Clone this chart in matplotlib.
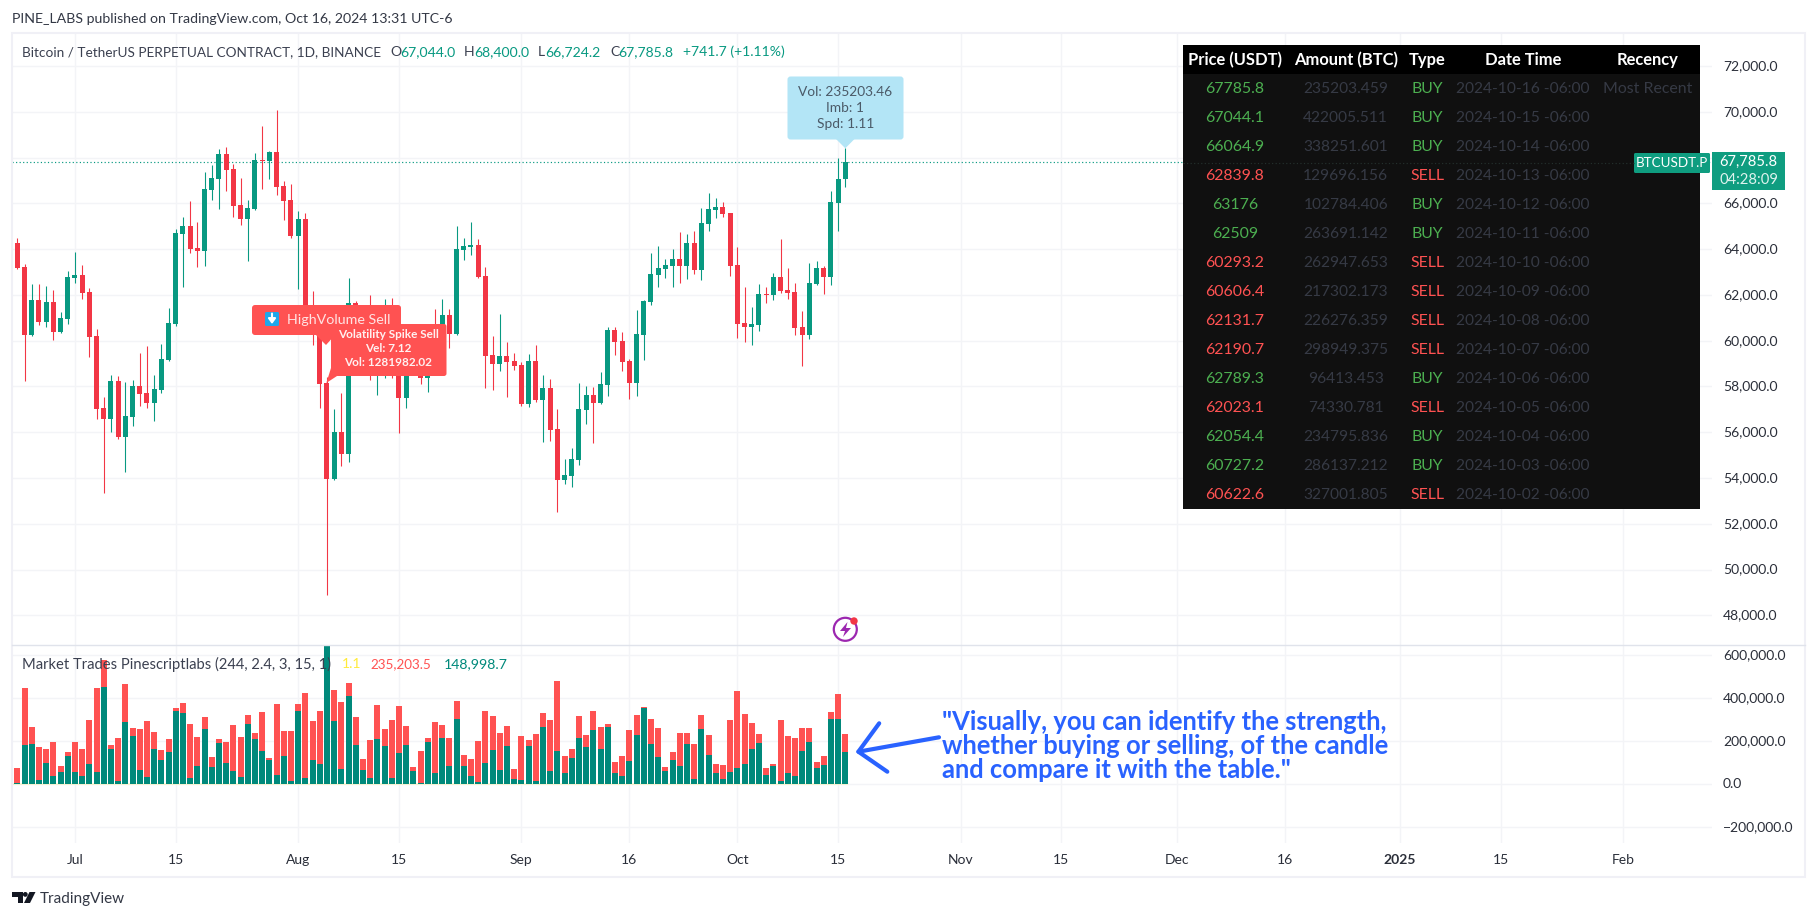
import numpy as np
import pandas as pd
import matplotlib
matplotlib.use("Agg")
import matplotlib.pyplot as plt
import matplotlib.dates as mdates
from matplotlib.patches import Rectangle, FancyBboxPatch, Polygon, Circle
from matplotlib.ticker import FuncFormatter, FixedLocator
from matplotlib.transforms import ScaledTranslation

# ---------- data ----------
first_candle = "2024-06-23"
opens = [64270,63220,60260,61780,60820,61690,60380,60950,62740,62870,
 62130,60200,57060,56590,58240,55790,56670,58020,57710,57280,
 57850,59160,60730,64660,65010,64050,63920,66580,67060,68160,
 67500,65930,65320,65750,67890,67850,68240,66760,66150,64570,
 65320,61400,60700,58150,53960,56010,55050,61650,60850,60900,
 58700,59300,60600,58700,57500,58900,59450,58370,59500,59000,
 61120,60290,63960,64090,64180,62830,59370,58980,59330,59110,
 58940,57230,59110,57410,57930,56140,53910,54090,54790,56970,
 57630,57280,58060,60470,59990,59110,58150,60250,61690,62870,
 63130,63260,63570,63260,64270,63090,65100,65710,65840,65580,
 63310,60770,60600,60680,62040,62000,62780,62210,62130,60600,
 60250,62480,63175,62780,66015,67044]
closes = [63180,60260,61780,60820,61690,60380,60990,62780,62870,62080,
 60180,57030,56590,58240,55790,56710,58020,57670,57280,57890,
 59200,60770,64700,65010,64010,63920,66630,67110,68160,67460,
 65880,65320,65800,67890,67850,68240,66710,66100,64570,65320,
 61400,60700,58120,53960,56010,55050,61650,60850,60900,58700,
 59300,60600,58700,57500,58900,59450,58370,59500,59000,61120,
 60290,64000,64140,64180,62780,59330,58980,59330,59070,58890,
 57230,59110,57410,57930,56100,53910,54130,54830,57010,57630,
 57280,58110,60470,59940,59070,58150,60290,61730,62910,63175,
 63310,63570,63260,64270,63090,65140,65750,65840,65530,63260,
 60730,60600,60730,62040,62000,62780,62170,62080,60550,60250,
 62520,63175,62780,66060,67060,67785.8]
highs = [64490,63350,62480,62480,62390,62210,61250,63040,63870,63310,
 62300,60510,57540,58500,58460,58190,58280,59460,59770,58500,
 59860,61430,64880,65400,66100,65180,67370,67680,68370,68460,
 67720,67110,66150,68200,69380,68290,70080,66980,66850,65670,
 65580,62170,61500,58430,57010,57710,62740,61730,61450,61990,
 60700,61800,61860,59850,59800,59700,60200,59600,61380,61820,
 61380,65010,64490,65180,64440,63220,60200,61170,59940,59460,
 59070,59420,59810,58500,58330,57010,54830,55310,58150,58020,
 57980,58630,60600,60600,60380,59200,61340,61780,63830,64140,
 63570,64005,64750,64660,64790,65800,66450,66230,66060,65580,
 64090,62345,61470,62480,62345,62960,64440,63175,62520,61300,
 63390,63480,63260,66540,67980,68400]
lows = [63130,58240,60200,60690,60610,60030,60340,60730,62520,61820,
 59300,56590,53360,56010,55700,54260,56270,57150,57060,56490,
 57710,59130,60640,62350,63830,63220,63260,66150,65750,66540,
 65400,65050,63480,65710,66630,67060,66360,65270,64490,62260,
 61100,59810,57060,48890,53910,54520,54700,60100,60250,58280,
 57630,58370,58370,55970,57060,58800,58100,57760,58800,58800,
 59680,60250,63520,63740,62740,57930,57840,58680,57540,58720,
 57140,57100,57320,55570,55620,52510,53740,53610,54570,56360,
 55530,57240,57580,59370,58680,57450,57580,59160,61560,62345,
 62740,62345,62520,62690,62910,62650,64790,65360,65400,62830,
 60120,59940,59810,60420,61650,61780,62080,61820,60250,58890,
 60070,62440,62040,62430,64790,66724]

first_bar = "2024-06-22"
sell_k = [58.9,77.5,449.5,268.2,175.2,165.9,198.4,86.8,151.9,198.4,165.9,
 300.7,449.5,579.7,184.5,217.0,468.1,263.5,258.9,296.1,244.9,
 161.2,212.4,356.5,379.8,282.1,221.7,314.7,128.7,212.4,198.4,
 277.5,221.7,324.0,240.3,337.9,124.0,375.1,249.6,249.6,375.1,
 426.3,296.1,342.6,1282.0,440.2,384.4,472.8,314.7,119.4,207.7,
 370.5,258.9,300.7,365.8,272.8,82.2,156.6,217.0,289.9,275.9,
 215.5,387.5,136.4,117.8,201.5,341.0,317.8,238.7,271.3,71.3,
 224.8,206.2,234.1,331.7,299.2,480.5,131.8,164.3,317.8,229.4,
 341.0,266.6,280.6,103.9,131.8,252.7,322.4,359.6,303.8,262.0,
 80.6,150.4,238.7,238.7,187.6,322.4,229.4,94.6,89.9,299.2,
 434.0,327.0,286.1,234.8,74.3,96.4,299.0,226.3,217.3,262.9,
 263.7,102.8,129.7,338.3,422.0,235.2]
buy_k = [35.7,7.8,184.5,189.1,21.7,100.8,40.3,58.9,133.3,58.9,40.3,
 96.1,58.9,454.2,165.9,17.1,291.4,226.3,68.2,35.7,165.9,
 114.7,151.9,342.6,333.3,31.0,86.8,258.9,82.2,193.8,100.8,
 63.6,35.7,282.1,212.4,156.6,114.7,45.0,133.3,17.1,342.6,
 31.0,114.7,96.1,800.0,296.1,72.9,412.3,184.5,68.2,31.0,
 212.4,179.8,31.0,147.3,184.5,63.6,7.8,198.4,52.7,215.5,
 85.3,303.8,85.3,38.8,10.9,99.2,159.7,66.7,178.3,24.8,
 20.2,178.3,15.5,266.6,62.0,155.0,52.7,122.5,215.5,173.6,
 252.7,164.3,266.6,52.7,38.8,108.5,229.4,355.0,187.6,127.1,
 62.0,113.2,85.3,187.6,24.8,257.3,136.4,52.7,24.8,57.4,
 76.0,94.6,164.3,192.2,43.4,85.3,15.5,52.7,38.8,155.0,
 196.9,76.0,89.9,303.8,303.8,149.0]

price_ticks = list(range(48000, 72001, 2000))
hidden_price_tick = 68000  # covered by the last-price tag in the reference
vol_ticks = [-200000, 0, 200000, 400000, 600000]
date_ticks = ["2024-07-01","2024-07-15","2024-08-01","2024-08-15","2024-09-01","2024-09-16",
              "2024-10-01","2024-10-15","2024-11-01","2024-11-15","2024-12-01","2024-12-16",
              "2025-01-01","2025-01-15","2025-02-01"]
date_labels = ["Jul","15","Aug","15","Sep","16","Oct","15","Nov","15","Dec","16","2025","15","Feb"]

table_header = ["Price (USDT)","Amount (BTC)","Type","Date Time","Recency"]
table_price = ["67785.8","67044.1","66064.9","62839.8","63176","62509","60293.2","60606.4",
               "62131.7","62190.7","62789.3","62023.1","62054.4","60727.2","60622.6"]
table_amount = ["235203.459","422005.511","338251.601","129696.156","102784.406","263691.142",
                "262947.653","217302.173","226276.359","298949.375","96413.453","74330.781",
                "234795.836","286137.212","327001.805"]
table_type = ["BUY","BUY","BUY","SELL","BUY","BUY","SELL","SELL","SELL","SELL","BUY","SELL","BUY","BUY","SELL"]
table_date = ["2024-10-%02d -06:00" % d for d in [16,15,14,13,12,11,10,9,8,7,6,5,4,3,2]]

# ---------- style ----------
W, H = 1817, 919
FONT = "Lato"
plt.rcParams["font.family"] = FONT
UP, DOWN = "#089981", "#f23645"
V_RED, V_TEAL = "#ff5252", "#00897b"
GRID = "#f3f4f7"
TXT = "#2a2e39"

fig = plt.figure(figsize=(W/100, H/100), dpi=100, facecolor="white")

def rect(x0, y0, x1, y1):
    return [x0/W, 1-y1/H, (x1-x0)/W, (y1-y0)/H]

ax = fig.add_axes(rect(12, 33, 1711.7, 645))
av = fig.add_axes(rect(12, 645, 1711.7, 842.7))

d = mdates.date2num(pd.date_range(first_candle, periods=len(opens)))
dv = mdates.date2num(pd.date_range(first_bar, periods=len(sell_k)))
xl = (d[0] + (12-17.3)/7.2, d[0] + (1711.7-17.3)/7.2)

o, c, h, l = map(np.array, (opens, closes, highs, lows))
cols = np.where(c >= o, UP, DOWN)
ax.vlines(d, l, h, colors=cols, lw=0.78, zorder=3)
ax.bar(d, np.maximum(np.abs(c-o), 60), bottom=np.minimum(o, c), width=5/7.2, color=cols, zorder=4, lw=0)
ax.axhline(closes[-1], color=UP, lw=0.85, ls=(0, (1, 2)), zorder=2)

av.plot([dv[0], dv[-1]+0.4], [0, 0], color="#ffeb3b", lw=0.35, alpha=0.8, zorder=2.5)
av.bar(dv, np.array(sell_k)*1000, width=6/7.2, color=V_RED, lw=0, zorder=3)
av.bar(dv, np.array(buy_k)*1000, width=6/7.2, color=V_TEAL, lw=0, zorder=4)

ax.set_ylim(72000-(645-66)/0.02289, 72000+(66-33)/0.02289)
av.set_ylim((784.3-842.7)/43*200000, (784.3-645)/43*200000)

tick_pos = mdates.date2num(pd.to_datetime(date_ticks))
for a in (ax, av):
    a.set_xlim(*xl)
    for s in a.spines.values():
        s.set_visible(False)
    a.set_axisbelow(True)
    a.grid(True, color=GRID, lw=1.0)
    a.xaxis.set_major_locator(FixedLocator(tick_pos))
    a.yaxis.tick_right()
    a.tick_params(axis="both", length=0, labelsize=10.0, labelcolor=TXT)
    a.tick_params(axis="y", pad=8)
ax.set_yticks(price_ticks)
av.set_yticks(vol_ticks)
fmt = FuncFormatter(lambda v, _: f"{v:,.1f}".replace("-", "\u2212"))
ax.yaxis.set_major_formatter(FuncFormatter(lambda v, p: "" if v == hidden_price_tick else fmt(v, p)))
av.yaxis.set_major_formatter(fmt)
ax.tick_params(axis="x", labelbottom=False)
av.set_xticks(tick_pos)
av.set_xticklabels(date_labels)
av.tick_params(axis="x", pad=8)
for t, s in zip(av.get_xticklabels(), date_labels):
    if s == "2025":
        t.set_fontweight("bold")
nudge = ScaledTranslation(0, 1.0/100, fig.dpi_scale_trans)
for a in (ax, av):
    for t in a.get_yticklabels():
        t.set_transform(t.get_transform() + nudge)

# ---------- overlay in pixel coordinates ----------
ov = fig.add_axes([0, 0, 1, 1], zorder=10)
ov.set_xlim(0, W); ov.set_ylim(H, 0); ov.axis("off")

ov.add_patch(Rectangle((11.5, 32.5), 1793.5, 844.5, fill=False, ec="#f0f0f6", lw=1.5))
ov.plot([12, 1805], [645.3, 645.3], color="#e0e3eb", lw=1.0)

def T(x, y, s, color=TXT, size=10, ha="left", weight="normal", **kw):
    return ov.text(x, y, s, color=color, fontsize=size, ha=ha, va="center", fontweight=weight, **kw)

T(11.6, 18.7, "PINE_LABS published on TradingView.com, Oct 16, 2024 13:31 UTC-6", size=10.15, color="#333845")
T(22, 51.7, "Bitcoin / TetherUS PERPETUAL CONTRACT, 1D, BINANCE", size=9.77, color="#3b4050")
for xp, lab, xv, val in [(390, "O", 400, "67,044.0"), (464, "H", 474, "68,400.0"),
                         (538, "L", 545, "66,724.2"), (610, "C", 618, "67,785.8")]:
    T(xp, 51.7, lab, size=10.1, color="#3b4050")
    T(xv, 51.7, val, size=10.1, color=UP)
T(683, 51.7, "+741.7 (+1.11%)", size=10.1, color=UP)

T(21.7, 664.3, "Market Trades Pinescriptlabs (244, 2.4, 3, 15, 1)", size=10.6, color="#3b4050")
T(342, 664.3, "1.1", size=10.1, color="#ffeb3b")
T(370.7, 664.3, "235,203.5", size=9.7, color=V_RED)
T(443.3, 664.3, "148,998.7", size=10.2, color=V_TEAL)

# tooltip
BLUE_TIP = "#b3e5f6"
ov.add_patch(FancyBboxPatch((789, 78), 113, 60, boxstyle="round,pad=1.5,rounding_size=3", fc=BLUE_TIP, ec="none"))
ov.add_patch(Polygon([(836, 139), (854.5, 139), (845.3, 148.3)], fc=BLUE_TIP, ec="none"))
for yy, s in zip([92.3, 108.3, 124.3], ["Vol: 235203.46", "Imb: 1", "Spd: 1.11"]):
    T(845.3, yy, s, color="#4b5a68", size=9.9, ha="center")

# red labels
ov.add_patch(Polygon([(316, 335), (335, 335), (326, 345)], fc=V_RED, ec="none"))
ov.add_patch(FancyBboxPatch((254, 307), 145, 26, boxstyle="round,pad=2,rounding_size=3", fc=V_RED, ec="none"))
ov.add_patch(FancyBboxPatch((265, 312), 14, 14, boxstyle="round,pad=0,rounding_size=1.5", fc="#1ea7ea", ec="none"))
ov.annotate("", xy=(272, 324), xytext=(272, 313.5),
            arrowprops=dict(arrowstyle="-|>,head_width=0.22,head_length=0.3", color="white", lw=1.5, shrinkA=0, shrinkB=0))
T(287, 319.5, "HighVolume Sell", color="#ffe3e3", size=10.3)

ov.add_patch(FancyBboxPatch((332, 325), 113.5, 50, boxstyle="round,pad=1,rounding_size=2.5", fc=V_RED, ec="none"))
ov.add_patch(Polygon([(331, 368), (337, 376), (326.3, 383)], fc=V_RED, ec="none"))
for yy, s in zip([334.7, 348.7, 362.7], ["Volatility Spike Sell", "Vel: 7.12", "Vol: 1281982.02"]):
    T(388.3, yy, s, color="#fff0f0", size=8.5, ha="center", weight="bold")

# table
ov.add_patch(Rectangle((1183, 45), 517, 464, fc="#101010", ec="none"))
ov.add_patch(Rectangle((1183, 45), 517, 29, fc="#000000", ec="none"))
ov.plot([1183, 1634], [162.5, 162.5], color="#24302d", lw=0.85, ls=(0, (1, 2)))
col_x = [1235, 1345.7, 1427.6, 1523, 1648]
for x, s in zip(col_x, table_header):
    T(x, 59.8, s, color="white", size=11.9, ha="center", weight="bold")
DIM = "#363a45"
TGREEN, TRED = "#4caf50", "#ff5252"
for i in range(len(table_price)):
    yy = 89.1 + 29*i
    col = TGREEN if table_type[i] == "BUY" else TRED
    T(col_x[0], yy, table_price[i], color=col, size=11.4, ha="center")
    T(col_x[1], yy, table_amount[i], color=DIM, size=11.2, ha="center")
    T(col_x[2], yy, table_type[i], color=col, size=11.4, ha="center")
    T(col_x[3], yy, table_date[i], color=DIM, size=11.2, ha="center")
T(col_x[4], 89.1, "Most Recent", color=DIM, size=11.4, ha="center")

# price tags
TAG = "#0f9d80"
ov.add_patch(FancyBboxPatch((1634, 153), 76, 20, boxstyle="round,pad=0,rounding_size=1.5", fc=TAG, ec="none"))
ov.add_patch(Rectangle((1712, 152), 73, 38, fc=TAG, ec="none"))
T(1672, 163.3, "BTCUSDT.P", color="white", size=9.6, ha="center")
T(1748.5, 162.2, "67,785.8", color="white", size=10.6, ha="center")
T(1748.5, 179.8, "04:28:09", color="#dff3ee", size=10.6, ha="center")

# annotation
ANN = "#2962ff"
for yy, s in zip([721.7, 745.7, 770], ['"Visually, you can identify the strength,',
                                       'whether buying or selling, of the candle',
                                       'and compare it with the table."']):
    T(942.4, yy, s, color=ANN, size=18.4, weight="bold")
ov.plot([939, 858.4], [737.3, 751.7], color=ANN, lw=3, solid_capstyle="round")
ov.plot([879.2, 858.4, 887.3], [723.3, 751.7, 771.7], color=ANN, lw=3, solid_capstyle="round", solid_joinstyle="round")

# publisher badge
ov.add_patch(Circle((845.3, 629.3), 11.5, fc="white", ec="#9c27b0", lw=1.6))
ov.add_patch(Polygon([(847.5, 622), (840, 631), (845, 631), (843, 637), (851, 628), (846, 628)], fc="#9c27b0", ec="none"))
ov.add_patch(Circle((854, 621), 3.7, fc="#f23645", ec="none"))

# footer logo
ov.add_patch(Polygon([(11.5, 892), (22.5, 892), (22.5, 903), (17.5, 903), (17.5, 897), (11.5, 897)], fc="#131722", ec="none"))
ov.add_patch(Circle((25.3, 894.4), 2.4, fc="#131722", ec="none"))
ov.add_patch(Polygon([(29.5, 892), (35.5, 892), (30, 903), (24, 903)], fc="#131722", ec="none"))
T(40, 898.5, "TradingView", color="#333845", size=11)

fig.savefig("out.png", dpi=100, facecolor="white")
